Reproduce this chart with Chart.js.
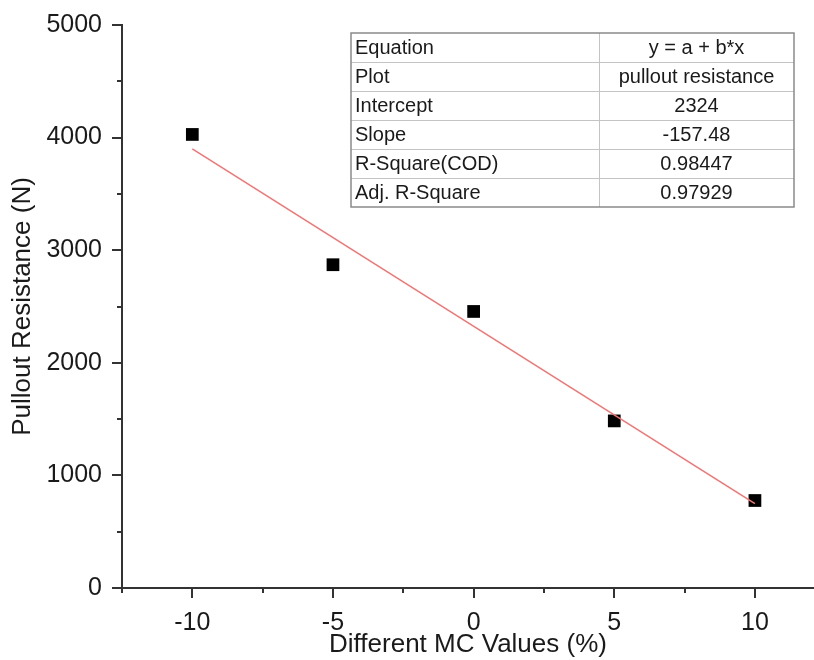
<!DOCTYPE html>
<html lang="en">
<head>
  <meta charset="UTF-8">
  <title>Pullout Resistance vs MC</title>
  <script src="https://cdn.jsdelivr.net/npm/chart.js"></script>
  <style>
    body {
      margin: 0;
      padding: 0;
      background: #fff;
    }
    canvas {
      display: block;
    }
  </style>
</head>
<body>
  <canvas id="chart" width="814" height="660"></canvas>

  <script>
    // measured points
    const mcValues = [-10, -5, 0, 5, 10];
    const pulloutValues = [4028, 2871, 2456, 1484, 777];

    // linear fit line, read at its two ends
    const fitX = [-10, 10];
    const fitY = [3899, 749];

    // fit report table
    const tableKeys = ['Equation', 'Plot', 'Intercept', 'Slope', 'R-Square(COD)', 'Adj. R-Square'];
    const tableVals = ['y = a + b*x', 'pullout resistance', '2324', '-157.48', '0.98447', '0.97929'];

    const xMajor = [-10, -5, 0, 5, 10];
    const yMajor = [0, 1000, 2000, 3000, 4000, 5000];

    const FONT = "'Liberation Sans', Arial, sans-serif";
    const AXIS = '#333';

    // draws outward tick marks, long ones on labelled values and short ones in between
    const tickMarks = {
      id: 'tickMarks',
      afterDraw(chart) {
        const ctx = chart.ctx;
        const xs = chart.scales.x;
        const ys = chart.scales.y;
        const area = chart.chartArea;
        ctx.save();
        ctx.strokeStyle = AXIS;
        ctx.lineWidth = 2;
        xs.ticks.forEach(t => {
          if (t.value > xs.max || t.value < xs.min) return;
          const px = Math.round(xs.getPixelForValue(t.value));
          const len = xMajor.includes(t.value) ? 10 : 5;
          ctx.beginPath();
          ctx.moveTo(px, area.bottom);
          ctx.lineTo(px, area.bottom + len);
          ctx.stroke();
        });
        ys.ticks.forEach(t => {
          const py = Math.round(ys.getPixelForValue(t.value));
          const len = yMajor.includes(t.value) ? 10 : 5;
          ctx.beginPath();
          ctx.moveTo(area.left, py);
          ctx.lineTo(area.left - len, py);
          ctx.stroke();
        });
        ctx.restore();
      }
    };

    // fit report box in the upper right
    const fitTable = {
      id: 'fitTable',
      afterDraw(chart) {
        const ctx = chart.ctx;
        const left = 351, right = 794, top = 33, mid = 599;
        const rowH = 29;
        const bottom = top + rowH * tableKeys.length;
        ctx.save();
        ctx.fillStyle = '#fff';
        ctx.fillRect(left, top, right - left, bottom - top);

        ctx.strokeStyle = '#c4c4c4';
        ctx.lineWidth = 1;
        for (let i = 1; i < tableKeys.length; i++) {
          const y = top + rowH * i + 0.5;
          ctx.beginPath();
          ctx.moveTo(left, y);
          ctx.lineTo(right, y);
          ctx.stroke();
        }
        ctx.beginPath();
        ctx.moveTo(mid + 0.5, top);
        ctx.lineTo(mid + 0.5, bottom);
        ctx.stroke();

        ctx.strokeStyle = '#8a8a8a';
        ctx.lineWidth = 1.5;
        ctx.strokeRect(left, top, right - left, bottom - top);

        ctx.fillStyle = '#1a1a1a';
        ctx.font = '20px ' + FONT;
        ctx.textBaseline = 'middle';
        tableKeys.forEach((k, i) => {
          const cy = top + rowH * i + rowH / 2 + 1;
          ctx.textAlign = 'left';
          ctx.fillText(k, left + 4, cy);
          ctx.textAlign = 'center';
          ctx.fillText(tableVals[i], (mid + right) / 2, cy);
        });
        ctx.restore();
      }
    };

    const ctx = document.getElementById('chart').getContext('2d');
    new Chart(ctx, {
      type: 'scatter',
      data: {
        datasets: [
          {
            type: 'line',
            label: 'Linear fit',
            data: fitX.map((x, i) => ({ x: x, y: fitY[i] })),
            borderColor: '#f27474',
            borderWidth: 1.5,
            pointRadius: 0,
            fill: false,
            tension: 0
          },
          {
            label: 'pullout resistance',
            data: mcValues.map((x, i) => ({ x: x, y: pulloutValues[i] })),
            pointStyle: 'rect',
            pointRadius: 9,
            pointBorderWidth: 0,
            backgroundColor: '#000',
            borderColor: '#000'
          }
        ]
      },
      options: {
        responsive: false,
        animation: false,
        layout: { autoPadding: false, padding: { top: 22, right: 0, left: 0, bottom: 0 } },
        plugins: {
          legend: { display: false },
          tooltip: { enabled: false }
        },
        scales: {
          x: {
            type: 'linear',
            min: -12.5,
            max: 12.1,
            afterFit: s => { s.height = 72; s.paddingRight = 0; },
            grid: { display: true, drawOnChartArea: false, drawTicks: true, tickLength: 20, tickColor: 'rgba(0,0,0,0)' },
            border: { display: true, color: AXIS, width: 2 },
            ticks: {
              stepSize: 2.5,
              includeBounds: false,
              autoSkip: false,
              maxRotation: 0,
              padding: 0,
              color: '#1a1a1a',
              font: { family: FONT, size: 25 },
              callback: v => xMajor.includes(v) ? String(v) : ''
            },
            title: {
              display: true,
              text: 'Different MC Values (%)',
              color: '#1a1a1a',
              font: { family: FONT, size: 26 },
              padding: 0
            }
          },
          y: {
            min: 0,
            max: 5000,
            afterFit: s => { s.width = 122; },
            grid: { display: true, drawOnChartArea: false, drawTicks: true, tickLength: 10, tickColor: 'rgba(0,0,0,0)' },
            border: { display: true, color: AXIS, width: 2 },
            ticks: {
              stepSize: 500,
              autoSkip: false,
              padding: 10,
              color: '#1a1a1a',
              font: { family: FONT, size: 25 },
              callback: v => yMajor.includes(v) ? String(v) : ''
            },
            title: {
              display: true,
              text: 'Pullout Resistance (N)',
              color: '#1a1a1a',
              font: { family: FONT, size: 26 },
              padding: { top: 7, bottom: 0 }
            }
          }
        }
      },
      plugins: [tickMarks, fitTable]
    });
  </script>
</body>
</html>
